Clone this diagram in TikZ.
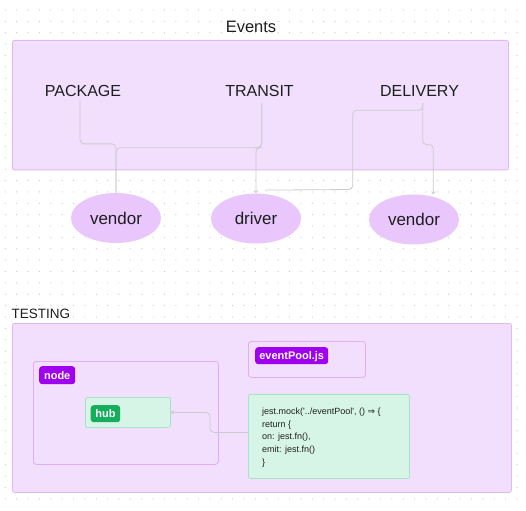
\documentclass[tikz,border=0pt]{standalone}
\usepackage{fontspec}
\setmainfont{Liberation Sans}
\newfontfamily\djv{DejaVu Sans}
\usetikzlibrary{arrows.meta,shapes.geometric,calc}
\definecolor{frameFill}{HTML}{F1DFFD}
\definecolor{frameLine}{HTML}{DDB9F4}
\definecolor{subLine}{HTML}{DFAEF5}
\definecolor{ellFill}{HTML}{E9C6FC}
\definecolor{tagPurple}{HTML}{A000F0}
\definecolor{tagGreen}{HTML}{14AE5C}
\definecolor{greenFill}{HTML}{D6F5E6}
\definecolor{greenLine}{HTML}{A6E3C6}
\definecolor{connC}{HTML}{CCCCCC}
\definecolor{dotC}{HTML}{C6C6C6}
\definecolor{txt}{HTML}{1E1E1E}
\tikzset{
  frame/.style={draw=frameLine, fill=frameFill, line width=0.8pt, rounded corners=2pt, anchor=north west, inner sep=0pt},
  subframe/.style={draw=subLine, fill=frameFill, line width=0.8pt, rounded corners=3pt, anchor=north west, inner sep=0pt},
  greenbox/.style={draw=greenLine, fill=greenFill, line width=0.8pt, rounded corners=2pt, anchor=north west, inner sep=0pt},
  tagbox/.style={text=white, font=\fontsize{11}{13}\selectfont\bfseries, rounded corners=3pt, anchor=north west, inner sep=0pt, text height=8pt, text depth=0pt},
  biglabel/.style={text=txt, font=\fontsize{16}{19}\selectfont, anchor=base, inner sep=0pt},
  oval/.style={ellipse, fill=ellFill, minimum width=90pt, minimum height=50pt, inner sep=0pt, text=txt, font=\fontsize{17}{20}\selectfont},
  conn/.style={draw=connC, line width=0.8pt, rounded corners=4pt},
  connarrow/.style={conn, -{Straight Barb[length=2pt,width=3.5pt]}},
}
\begin{document}
\begin{tikzpicture}[x=1pt,y=-1pt]
\useasboundingbox (0,0) rectangle (526,510);
\fill[white] (0,0) rectangle (526,510);
% dotted grid
\foreach \i in {0,...,45} {\foreach \j in {0,...,43} {\fill[dotC] (5.3+\i*11.37,10+\j*11.37) circle (0.6);}}

% ---------- Events ----------
\node[text=txt, font=\fontsize{16.5}{19}\selectfont, anchor=base, inner sep=0pt] (evtitle) at (251,32.3) {Events};
\node[frame, minimum width=496pt, minimum height=129.5pt] (evframe) at (12,40) {};

\node[biglabel] (pkg) at (83,96.7) {PACKAGE};
\node[biglabel] (trn) at (259.5,96.7) {TRANSIT};
\node[biglabel] (dlv) at (419.5,96.7) {DELIVERY};

\node[oval] (vA) at (116,218) {vendor};
\node[oval] (drv) at (256,218.5) {driver};
\node[oval] (vB) at (414,219.5) {vendor};

% connectors
\draw[conn] ($(pkg.south)+(-3,2.3)$) -- ++(0,44.5) -| (vA.north);
\draw[conn] ($(trn.south)+(2.2,6.3)$) -- ++(0,44.3) -| (vA.north);
\draw[connarrow] ($(trn.south)+(2.2,6.3)$) -- ++(0,44.3) -| (drv.north);
\draw[connarrow] ($(dlv.south)+(3.2,6.3)$) -- ++(0,41.5) -| ($(vB.north)+(19.3,0)$);
\draw[conn] ($(dlv.south)+(3.2,6.3)$) -- ++(0,7) -| ++(-70,79.3) -- ($(drv.north)+(9,-3.2)$);

% ---------- Testing ----------
\node[text=txt, font=\fontsize{13.5}{16}\selectfont, anchor=base west, inner sep=0pt] (testtitle) at (11.5,318.3) {TESTING};
\node[frame, minimum width=499pt, minimum height=169pt] (testframe) at (12,323) {};

\node[subframe, minimum width=185pt, minimum height=103pt] (nodeframe) at (33,361) {};
\node[tagbox, fill=tagPurple, minimum width=36pt, minimum height=18pt] (nodetag) at (39,366) {node};

\node[greenbox, minimum width=85pt, minimum height=30pt] (hubbox) at (85,397) {};
\node[tagbox, fill=tagGreen, minimum width=29.5pt, minimum height=17pt] (hubtag) at (90.5,405) {hub};

\node[subframe, minimum width=117pt, minimum height=36pt] (epframe) at (248,341) {};
\node[tagbox, fill=tagPurple, minimum width=73pt, minimum height=17pt] (eptag) at (255,347) {eventPool.js};

\node[greenbox, minimum width=161pt, minimum height=84pt] (codebox) at (248,394) {};
\node[anchor=north west, inner sep=0pt, align=left, text=txt, font=\fontsize{9}{12.75}\selectfont] (code) at (262,407.6)
  {jest.mock(\textquotesingle../eventPool\textquotesingle, () {\djv ⇒} \{\\
   return \{\\
   on: jest.fn(),\\
   emit: jest.fn()\\
   \}};

\draw[connarrow] ($(codebox.west)+(0,-4)$) -- ++(-38,0) |- (hubbox.east);
\end{tikzpicture}
\end{document}
